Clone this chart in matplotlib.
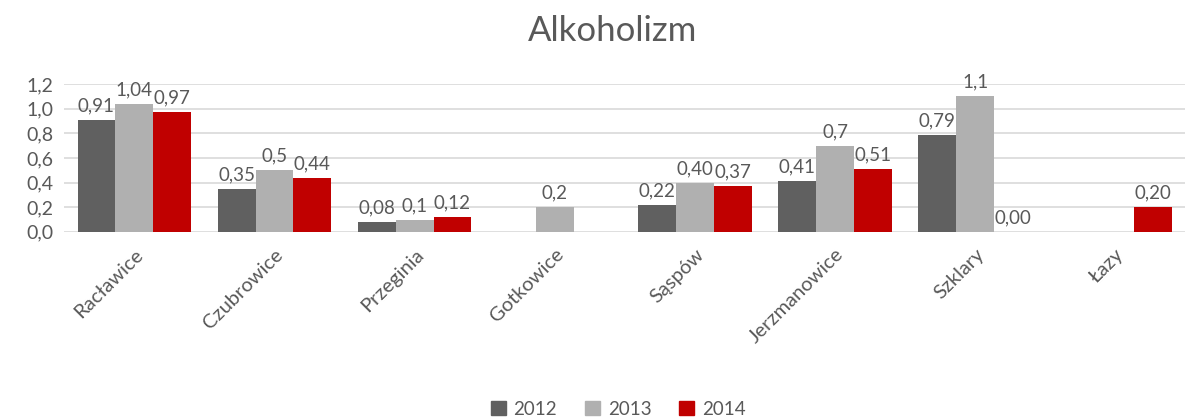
import numpy as np
import matplotlib
matplotlib.use('Agg')
import matplotlib.pyplot as plt

plt.rcParams['font.family'] = ['Lato', 'DejaVu Sans']

# Villages and yearly values (None = no bar)
villages = ['Racławice', 'Czubrowice', 'Przeginia', 'Gotkowice',
            'Sąspów', 'Jerzmanowice', 'Szklary', 'Łazy']
years = ['2012', '2013', '2014']
v2012 = [0.91, 0.35, 0.08, None, 0.22, 0.41, 0.79, None]
v2013 = [1.04, 0.5, 0.1, 0.2, 0.40, 0.7, 1.1, None]
v2014 = [0.97, 0.44, 0.12, None, 0.37, 0.51, 0.00, 0.20]
lab2012 = ['0,91', '0,35', '0,08', None, '0,22', '0,41', '0,79', None]
lab2013 = ['1,04', '0,5', '0,1', '0,2', '0,40', '0,7', '1,1', None]
lab2014 = ['0,97', '0,44', '0,12', None, '0,37', '0,51', '0,00', '0,20']

colors = ['#606060', '#b0b0b0', '#c00000']
txt = '#595959'

fig = plt.figure(figsize=(11.89, 4.2), dpi=100)
ax = fig.add_axes([0.054, 0.448, 0.943, 0.352])

x = np.arange(len(villages))
w = 0.27
series = [(v2012, lab2012), (v2013, lab2013), (v2014, lab2014)]
for i, (vals, labs) in enumerate(series):
    xs = x + (i - 1) * w
    for xi, v, lab in zip(xs, vals, labs):
        if v is None:
            continue
        ax.bar(xi, v, width=w, color=colors[i], zorder=2)
        ax.annotate(lab, (xi, v), xytext=(0, 4), textcoords='offset points',
                    ha='center', va='bottom', fontsize=13.5, color=txt)

ax.set_xlim(-0.5, len(villages) - 0.5)
ax.set_ylim(0, 1.2)
ax.set_yticks(np.arange(0, 1.21, 0.2))
ax.set_yticklabels([f'{t:.1f}'.replace('.', ',') for t in np.arange(0, 1.21, 0.2)])
ax.yaxis.grid(True, color='#d9d9d9', lw=1.2, zorder=0)
ax.set_axisbelow(True)
for s in ax.spines.values():
    s.set_visible(False)
ax.tick_params(axis='both', length=0, labelsize=14, colors=txt)
ax.tick_params(axis='y', pad=8)
ax.set_xticks(x)
ax.set_xticklabels(villages, rotation=45, ha='right', rotation_mode='anchor')
ax.tick_params(axis='x', pad=10, labelsize=14.5)

fig.suptitle('Alkoholizm', x=0.515, y=0.965, fontsize=25, color=txt)

handles = [plt.Rectangle((0, 0), 1, 1, color=c) for c in colors]
fig.legend(handles, years, loc='lower center', bbox_to_anchor=(0.52, -0.035), ncol=3,
           frameon=False, fontsize=13.5, labelcolor=txt, handlelength=0.8,
           handleheight=0.8, handletextpad=0.4, columnspacing=1.5)

fig.savefig('out.png', dpi=100)
